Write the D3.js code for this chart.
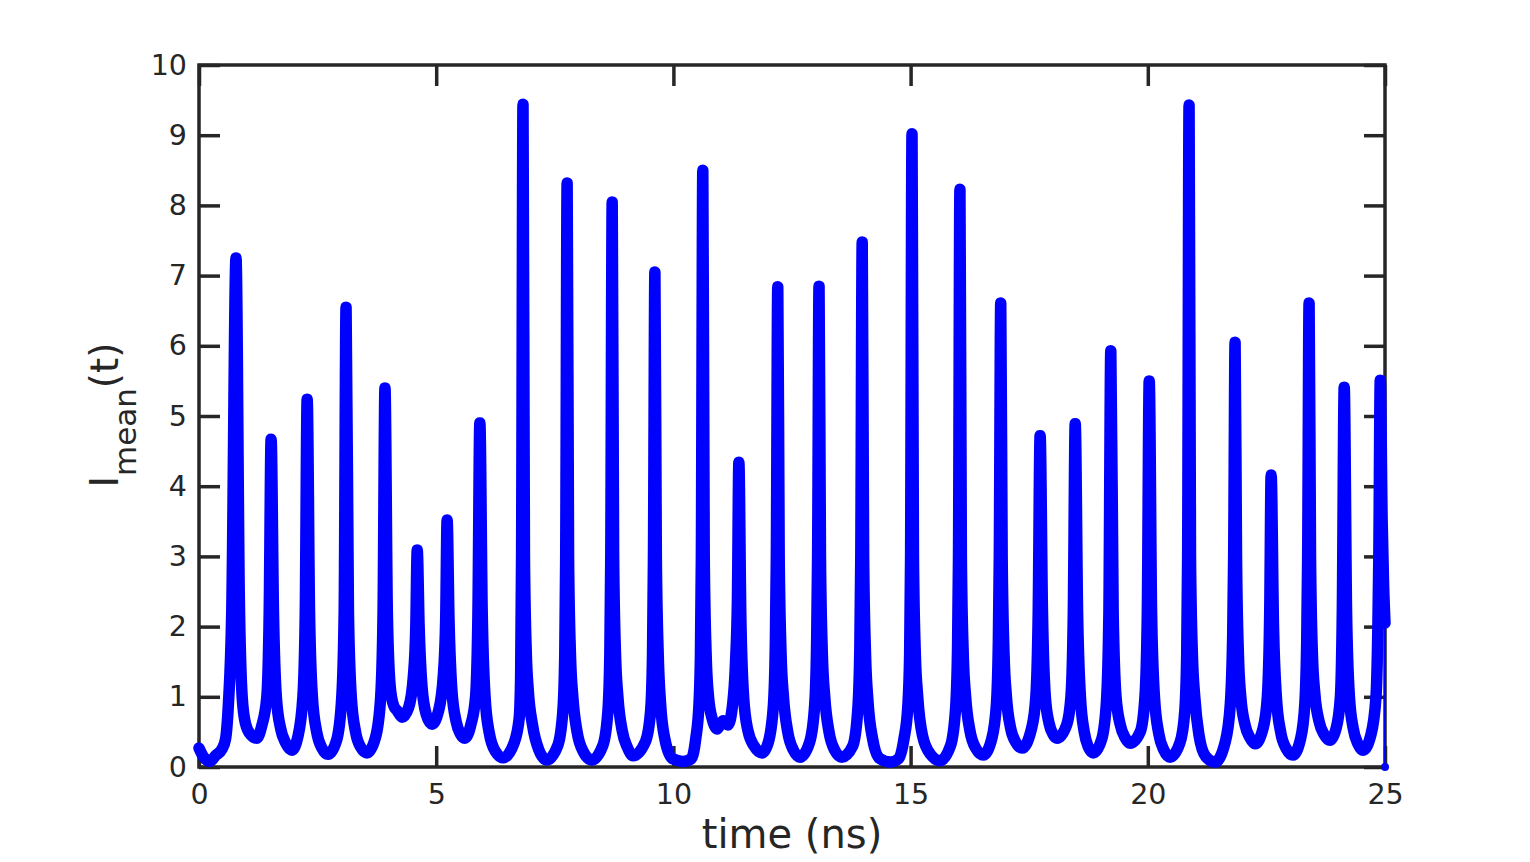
<!DOCTYPE html>
<html>
<head>
<meta charset="utf-8">
<script src="https://cdn.jsdelivr.net/npm/d3@7"></script>
<style>
  html, body { margin: 0; padding: 0; background: #ffffff; }
  svg { display: block; }
</style>
</head>
<body>
<svg id="chart" width="1530" height="862"></svg>
<script>
// ---- data ----
const xTicks = [0, 5, 10, 15, 20, 25];
const yTicks = [0, 1, 2, 3, 4, 5, 6, 7, 8, 9, 10];
const xLabel = "time (ns)";

// time (ns), I_mean(t)
const series = [
  [0,0.27],[0.1,0.14],[0.23,0.08],[0.36,0.17],[0.48,0.25],[0.56,0.4],[0.62,0.9],[0.69,2.2],[0.78,7.25],[0.85,2.4],[0.91,1.0],[0.98,0.62],[1.09,0.46],[1.22,0.41],
  [1.32,0.58],[1.43,1.0],[1.48,2.2],[1.52,4.67],[1.57,2.2],[1.63,1.0],[1.72,0.55],[1.83,0.34],[1.96,0.24],
  [2.08,0.42],[2.19,1.0],[2.24,2.2],[2.28,5.24],[2.33,2.2],[2.39,1.0],[2.48,0.5],[2.59,0.27],[2.72,0.18],
  [2.90,0.38],[3.01,1.0],[3.06,2.2],[3.10,6.55],[3.15,2.2],[3.21,1.0],[3.30,0.5],[3.41,0.28],[3.54,0.20],
  [3.72,0.42],[3.83,1.0],[3.88,2.2],[3.92,5.40],[3.97,2.2],[4.03,1.15],[4.10,0.88],[4.18,0.8],[4.28,0.71],
  [4.42,0.85],[4.52,1.3],[4.57,2.0],[4.60,3.09],[4.64,2.0],[4.70,1.15],[4.79,0.75],[4.91,0.61],
  [5.05,0.8],[5.15,1.3],[5.20,2.1],[5.23,3.52],[5.27,2.1],[5.33,1.1],[5.42,0.65],[5.51,0.47],[5.60,0.41],
  [5.73,0.6],[5.83,1.0],[5.88,2.2],[5.92,4.90],[5.97,2.2],[6.03,1.0],[6.12,0.48],[6.25,0.22],[6.41,0.13],
  [6.64,0.34],[6.75,0.7],[6.78,1.3],[6.80,3.0],[6.83,9.44],[6.86,3.0],[6.90,1.6],[6.94,1.1],[7.03,0.6],[7.16,0.25],[7.33,0.10],
  [7.56,0.3],[7.67,0.8],[7.71,1.6],[7.73,3.0],[7.76,8.32],[7.79,3.0],[7.83,1.6],[7.88,1.0],[7.97,0.5],[8.10,0.22],[8.28,0.10],
  [8.51,0.3],[8.62,0.8],[8.66,1.6],[8.68,3.0],[8.71,8.05],[8.74,3.0],[8.78,1.6],[8.83,1.0],[8.92,0.52],[9.03,0.28],[9.15,0.16],
  [9.41,0.36],[9.52,0.8],[9.56,1.6],[9.58,3.0],[9.61,7.05],[9.64,3.0],[9.68,1.6],[9.73,0.9],[9.82,0.4],[9.98,0.12],[10.2,0.08],[10.38,0.12],
  [10.47,0.4],[10.54,0.9],[10.57,1.6],[10.59,3.0],[10.62,8.5],[10.65,3.0],[10.69,1.6],[10.74,1.0],[10.82,0.68],[10.92,0.54],[11.0,0.62],[11.05,0.66],[11.1,0.62],[11.15,0.6],
  [11.25,0.9],[11.31,1.5],[11.35,2.4],[11.38,4.34],[11.42,2.2],[11.48,1.0],[11.57,0.52],[11.70,0.3],[11.87,0.20],
  [12.0,0.35],[12.11,0.9],[12.15,1.8],[12.17,3.0],[12.20,6.84],[12.23,3.0],[12.27,1.6],[12.32,1.0],[12.41,0.5],[12.53,0.24],[12.67,0.14],
  [12.87,0.35],[12.98,0.9],[13.02,1.8],[13.04,3.0],[13.07,6.85],[13.10,3.0],[13.14,1.6],[13.19,1.0],[13.28,0.5],[13.40,0.24],[13.55,0.14],
  [13.78,0.3],[13.89,0.85],[13.93,1.7],[13.95,3.0],[13.98,7.48],[14.01,3.0],[14.05,1.6],[14.10,0.95],[14.2,0.4],[14.35,0.12],[14.57,0.07],[14.75,0.12],
  [14.86,0.4],[14.94,0.85],[14.98,1.6],[15.0,3.0],[15.03,9.02],[15.06,3.0],[15.10,1.6],[15.15,1.0],[15.25,0.45],[15.42,0.18],[15.62,0.09],
  [15.84,0.3],[15.95,0.85],[15.99,1.7],[16.01,3.0],[16.04,8.23],[16.07,3.0],[16.11,1.6],[16.16,1.0],[16.25,0.52],[16.38,0.26],[16.53,0.17],
  [16.71,0.4],[16.81,0.9],[16.85,1.8],[16.87,3.0],[16.90,6.61],[16.93,3.0],[16.97,1.6],[17.02,1.0],[17.11,0.55],[17.22,0.35],[17.35,0.27],
  [17.55,0.55],[17.64,1.0],[17.69,2.2],[17.73,4.72],[17.78,2.2],[17.84,1.0],[17.92,0.62],[18.0,0.47],[18.09,0.41],
  [18.29,0.6],[18.38,1.0],[18.43,2.2],[18.47,4.89],[18.52,2.2],[18.58,1.0],[18.66,0.5],[18.75,0.28],[18.85,0.20],
  [19.03,0.4],[19.13,0.95],[19.18,2.2],[19.22,5.93],[19.27,2.2],[19.33,1.0],[19.42,0.6],[19.52,0.42],[19.63,0.34],
  [19.84,0.5],[19.94,1.0],[19.99,2.2],[20.03,5.5],[20.08,2.2],[20.14,1.0],[20.23,0.48],[20.34,0.24],[20.47,0.14],
  [20.68,0.35],[20.78,0.8],[20.82,1.6],[20.84,3.0],[20.87,9.43],[20.90,3.0],[20.94,1.6],[20.99,1.0],[21.08,0.45],[21.22,0.15],[21.42,0.07],
  [21.63,0.35],[21.74,0.9],[21.79,1.9],[21.81,3.0],[21.84,6.05],[21.87,3.0],[21.91,1.6],[21.96,1.0],[22.05,0.6],[22.15,0.42],[22.26,0.33],
  [22.43,0.55],[22.52,1.0],[22.57,2.2],[22.60,4.16],[22.65,2.0],[22.71,1.0],[22.80,0.5],[22.92,0.26],[23.06,0.17],
  [23.22,0.4],[23.31,0.9],[23.35,1.8],[23.37,3.0],[23.40,6.61],[23.43,3.0],[23.47,1.6],[23.52,1.05],[23.61,0.65],[23.72,0.46],[23.84,0.38],
  [23.97,0.55],[24.06,1.0],[24.10,2.2],[24.14,5.41],[24.19,2.2],[24.25,1.0],[24.33,0.55],[24.43,0.33],[24.54,0.24],
  [24.70,0.45],[24.81,1.0],[24.85,2.0],[24.87,3.0],[24.90,5.51],[24.94,3.5],[24.97,2.6],[25.0,2.05]
];
// last recorded sample drops to zero at the end of the window
const tail = [[25.0, 2.05], [25.0, 0]];

// ---- layout ----
const svg = d3.select("#chart");
const mLeft = 199, mTop = 65, mRight = 1385, mBottom = 767;
const ink = "#262626";
const font = "'DejaVu Sans', sans-serif";

const x = d3.scaleLinear().domain([0, 25]).range([mLeft, mRight]);
const y = d3.scaleLinear().domain([0, 10]).range([mBottom, mTop]);

svg.append("rect").attr("width", 1530).attr("height", 862).attr("fill", "#fff");

const tickLen = 21;
function styleAxis(g, withLabels) {
  g.select(".domain").remove();
  g.selectAll(".tick line").attr("stroke", ink).attr("stroke-width", 3.5);
  g.selectAll(".tick text")
    .attr("fill", ink)
    .style("font-family", font)
    .style("font-size", "28.5px");
  if (!withLabels) g.selectAll(".tick text").remove();
}

svg.append("g").attr("transform", `translate(0,${mBottom})`)
  .call(d3.axisBottom(x).tickValues(xTicks).tickSizeInner(-tickLen).tickSizeOuter(0).tickPadding(17).tickFormat(d3.format("d")))
  .call(g => styleAxis(g, true));
svg.append("g").attr("transform", `translate(0,${mTop})`)
  .call(d3.axisTop(x).tickValues(xTicks).tickSizeInner(-tickLen).tickSizeOuter(0))
  .call(g => styleAxis(g, false));
svg.append("g").attr("transform", `translate(${mLeft},0)`)
  .call(d3.axisLeft(y).tickValues(yTicks).tickSizeInner(-tickLen).tickSizeOuter(0).tickPadding(12).tickFormat(d3.format("d")))
  .call(g => styleAxis(g, true));
svg.append("g").attr("transform", `translate(${mRight},0)`)
  .call(d3.axisRight(y).tickValues(yTicks).tickSizeInner(-tickLen).tickSizeOuter(0))
  .call(g => styleAxis(g, false));

svg.append("rect")
  .attr("x", mLeft).attr("y", mTop)
  .attr("width", mRight - mLeft).attr("height", mBottom - mTop)
  .attr("fill", "none").attr("stroke", ink).attr("stroke-width", 3.5);

svg.append("text")
  .attr("x", (mLeft + mRight) / 2).attr("y", 848)
  .attr("text-anchor", "middle")
  .attr("fill", ink)
  .style("font-family", font).style("font-size", "40px")
  .text(xLabel);

const yl = svg.append("text")
  .attr("transform", "translate(118,415) rotate(-90)")
  .attr("text-anchor", "middle")
  .attr("fill", ink)
  .style("font-family", font).style("font-size", "39px");
yl.append("tspan").text("I");
yl.append("tspan").attr("dy", 18).style("font-size", "31px").text("mean");
yl.append("tspan").attr("dy", -18).text("(t)");

const line = d3.line().x(d => x(d[0])).y(d => y(d[1])).curve(d3.curveMonotoneX);
svg.append("path")
  .datum(series)
  .attr("d", line)
  .attr("fill", "none")
  .attr("stroke", "#0000ff")
  .attr("stroke-width", 11.5)
  .attr("stroke-linejoin", "round")
  .attr("stroke-linecap", "round");

svg.append("path")
  .datum(tail)
  .attr("d", d3.line().x(d => x(d[0])).y(d => y(d[1])))
  .attr("fill", "none")
  .attr("stroke", "#0000ff")
  .attr("stroke-width", 2);
svg.append("circle")
  .attr("cx", x(tail[1][0])).attr("cy", y(tail[1][1]))
  .attr("r", 4).attr("fill", "#0000ff");
</script>
</body>
</html>
